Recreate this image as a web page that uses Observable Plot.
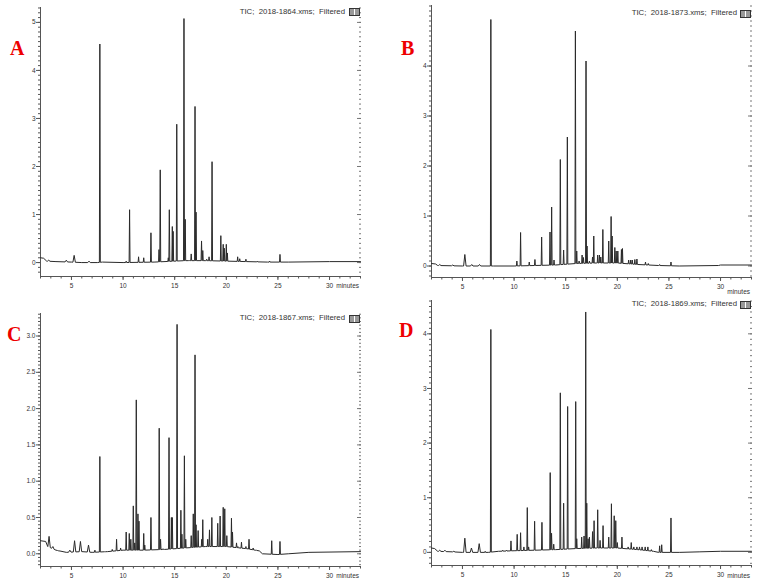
<!DOCTYPE html>
<html>
<head>
<meta charset="utf-8">
<script src="https://cdn.jsdelivr.net/npm/d3@7"></script>
<script src="https://cdn.jsdelivr.net/npm/@observablehq/plot@0.6"></script>
<style>
  body { margin: 0; background: #fff; }
  #wrap { position: relative; width: 761px; height: 582px; overflow: hidden; background: #fff; font-family: "Liberation Sans", Arial, sans-serif; }
  .panel { position: absolute; }
  .lab { position: absolute; font: bold 20px/20px "Liberation Serif", "Times New Roman", serif; color: #ee0000; }
  .small { position: absolute; font-size: 6.5px; line-height: 1; color: #333; white-space: pre; transform: translate(-100%, -50%); }
  .title { font-size: 7.8px; }
  .icon { position: absolute; width: 9px; height: 6px; border: 1px solid #333; background: linear-gradient(90deg, #999 0 40%, #fff 40% 55%, #999 55% 100%); }
</style>
</head>
<body>
<div id="wrap"></div>
<script>
// ---------- Data ----------
const panelLetters = ["A", "B", "C", "D"];
const fileNames = ["2018-1864.xms", "2018-1873.xms", "2018-1867.xms", "2018-1869.xms"];
const xTicks = [5, 10, 15, 20, 25, 30];

// Panel A
const peakTimesA   = [2.8, 4.5, 5.26, 6.7, 7.75, 10.3, 10.63, 11.5, 12.0, 12.7, 13.48, 13.6, 14.38, 14.48, 14.77, 14.85, 15.2, 15.9, 16.02, 16.4, 16.6, 16.97, 17.07, 17.6, 17.72, 18.1, 18.33, 18.62, 19.47, 19.7, 19.8, 20.0, 20.1, 21.1, 21.3, 21.9, 23.0, 24.2, 25.2];
const peakHeightsA = [0.05, 0.05, 0.15, 0.03, 4.55, 0.03, 1.1, 0.12, 0.1, 0.62, 0.27, 1.93, 0.1, 1.1, 0.75, 0.65, 2.88, 5.08, 0.9, 0.05, 0.18, 3.25, 1.05, 0.45, 0.25, 0.07, 0.12, 2.1, 0.56, 0.38, 0.3, 0.38, 0.2, 0.12, 0.08, 0.07, 0.03, 0.03, 0.17];
const baseTimesA   = [2, 2.3, 2.6, 3.5, 5, 6, 7.5, 8, 10, 13, 16, 18, 20, 22, 24, 26, 30, 33];
const baseValuesA  = [0.1, 0.09, 0.03, 0.02, 0.01, 0.0, 0.0, 0.01, 0.0, 0.01, 0.04, 0.04, 0.03, 0.02, 0.01, 0.01, 0.02, 0.02];
const yTicksA = [0, 1, 2, 3, 4, 5];

// Panel B
const peakTimesB   = [2.8, 4.06, 5.23, 5.9, 6.65, 7.75, 10.27, 10.63, 11.47, 12.02, 12.67, 13.48, 13.64, 13.87, 14.48, 14.8, 15.16, 15.94, 16.07, 16.3, 16.59, 16.72, 16.97, 17.07, 17.3, 17.6, 17.72, 18.1, 18.27, 18.4, 18.6, 19.17, 19.4, 19.5, 19.76, 19.89, 20.05, 20.4, 20.5, 21.1, 21.3, 21.45, 21.7, 21.9, 22.73, 23.0, 24.1, 25.2];
const peakHeightsB = [0.03, 0.02, 0.23, 0.03, 0.03, 4.93, 0.1, 0.67, 0.08, 0.13, 0.58, 0.68, 1.18, 0.12, 2.13, 0.32, 2.58, 4.7, 0.3, 0.1, 0.22, 0.17, 4.1, 0.4, 0.1, 0.18, 0.6, 0.22, 0.22, 0.18, 0.73, 0.5, 0.99, 0.6, 0.37, 0.3, 0.3, 0.33, 0.35, 0.12, 0.12, 0.12, 0.13, 0.14, 0.08, 0.05, 0.03, 0.08];
const baseTimesB   = [2, 2.4, 2.6, 5, 8, 10, 12, 14, 16, 18, 20, 22, 24, 26, 29.8, 30, 33];
const baseValuesB  = [0.05, 0.04, 0.01, 0.0, 0.0, 0.0, 0.01, 0.02, 0.05, 0.06, 0.06, 0.03, 0.01, 0.0, 0.01, 0.02, 0.02];
const yTicksB = [0, 1, 2, 3, 4];

// Panel C
const peakTimesC   = [2.83, 3.2, 3.77, 4.84, 5.3, 5.87, 6.65, 7.27, 7.75, 8.24, 8.95, 9.37, 9.76, 10.3, 10.6, 10.75, 10.99, 11.13, 11.28, 11.44, 11.54, 12.0, 12.1, 12.7, 13.5, 13.63, 13.87, 14.45, 14.68, 14.77, 15.23, 15.6, 15.7, 15.94, 16.07, 16.6, 16.8, 16.97, 17.07, 17.27, 17.62, 17.72, 18.2, 18.37, 18.6, 19.17, 19.4, 19.7, 19.85, 20.05, 20.5, 20.6, 20.99, 21.12, 21.47, 21.9, 22.2, 22.6, 22.9, 24.4, 25.2];
const peakHeightsC = [0.24, 0.1, 0.04, 0.05, 0.18, 0.17, 0.12, 0.05, 1.34, 0.03, 0.06, 0.2, 0.08, 0.3, 0.28, 0.2, 0.66, 0.15, 2.12, 0.55, 0.45, 0.28, 0.12, 0.5, 1.73, 0.2, 0.07, 1.6, 0.5, 0.5, 3.16, 0.6, 0.27, 1.35, 0.2, 0.25, 0.55, 2.74, 0.4, 0.32, 0.2, 0.47, 0.2, 0.33, 0.5, 0.42, 0.52, 0.64, 0.62, 0.25, 0.49, 0.3, 0.15, 0.1, 0.16, 0.1, 0.2, 0.08, 0.05, 0.18, 0.17];
const baseTimesC   = [2, 2.5, 2.7, 3.5, 4.5, 6, 7, 8.5, 10, 12, 14, 16, 18, 20, 22, 23.2, 23.5, 25, 26, 28, 33];
const baseValuesC  = [0.18, 0.17, 0.1, 0.05, 0.02, 0.03, 0.02, 0.03, 0.05, 0.05, 0.06, 0.08, 0.1, 0.1, 0.07, 0.04, 0.0, -0.01, 0.0, 0.02, 0.03];
const yTicksC = [0, 0.5, 1, 1.5, 2, 2.5, 3];

// Panel D
const peakTimesD   = [2.8, 3.3, 4.16, 5.23, 5.87, 6.62, 7.2, 7.75, 8.9, 9.27, 9.7, 10.3, 10.63, 10.95, 11.28, 11.41, 11.99, 12.7, 13.5, 13.63, 13.84, 14.48, 14.8, 15.19, 15.97, 16.07, 16.55, 16.78, 16.94, 17.04, 17.17, 17.3, 17.6, 17.75, 18.1, 18.33, 18.62, 19.17, 19.43, 19.7, 19.85, 20.0, 20.45, 21.05, 21.35, 21.6, 21.9, 22.15, 22.4, 22.7, 22.96, 23.3, 24.1, 24.3, 25.2];
const peakHeightsD = [0.04, 0.04, 0.02, 0.26, 0.08, 0.16, 0.02, 4.08, 0.04, 0.04, 0.21, 0.33, 0.36, 0.1, 0.82, 0.1, 0.57, 0.55, 1.46, 0.35, 0.15, 2.92, 0.9, 2.67, 2.76, 0.25, 0.28, 0.3, 4.4, 0.9, 0.25, 0.28, 0.38, 0.58, 0.78, 0.22, 0.49, 0.28, 0.89, 0.67, 0.58, 0.18, 0.28, 0.1, 0.18, 0.1, 0.1, 0.1, 0.1, 0.1, 0.1, 0.05, 0.12, 0.14, 0.63];
const baseTimesD   = [2, 2.3, 2.6, 4, 5, 7.5, 8.5, 10, 12, 14, 16, 18, 20, 22, 23.5, 24, 26, 28, 30, 33];
const baseValuesD  = [0.08, 0.07, 0.02, 0.01, 0.0, 0.0, 0.02, 0.03, 0.04, 0.05, 0.07, 0.08, 0.08, 0.05, 0.02, 0.0, 0.0, 0.01, 0.02, 0.02];
const yTicksD = [0, 1, 2, 3, 4];

// ---------- Build the traces ----------
function buildTrace(pt, ph, bt, bv) {
  const base = d3.scaleLinear().domain(bt).range(bv).clamp(true);
  const halfW = t => (t < 7 ? 0.12 : 0.045);
  const inPeak = t => pt.some(p => Math.abs(t - p) <= halfW(p));
  const pts = bt.filter(t => !inPeak(t)).map(t => ({t, v: base(t)}));
  pt.forEach((t, i) => {
    const w = halfW(t);
    pts.push({t: t - w, v: base(t - w)}, {t, v: ph[i]}, {t: t + w, v: base(t + w)});
  });
  return pts.sort((a, b) => a.t - b.t);
}

const panels = [
  {left: 0,   top: 0,   w: 380, h: 290, ml: 40, mr: 20, mt: 7,  mb: 14, y: [-0.29, 5.31], ticks: yTicksA, minor: 0.1, fmt: d3.format("d"),
   trace: buildTrace(peakTimesA, peakHeightsA, baseTimesA, baseValuesA),
   title: [345, 12], icon: [349, 8], minutes: [359, 286], lab: [10, 38]},
  {left: 380, top: 0,   w: 381, h: 290, ml: 51, mr: 10, mt: 5,  mb: 13, y: [-0.23, 5.21], ticks: yTicksB, minor: 0.1, fmt: d3.format("d"),
   trace: buildTrace(peakTimesB, peakHeightsB, baseTimesB, baseValuesB),
   title: [737, 13.3], icon: [740, 10], minutes: [750, 292], lab: [401, 38]},
  {left: 0,   top: 290, w: 380, h: 292, ml: 40, mr: 20, mt: 23, mb: 16, y: [-0.175, 3.31], ticks: yTicksC, minor: 0.05, fmt: d3.format(".1f"),
   trace: buildTrace(peakTimesC, peakHeightsC, baseTimesC, baseValuesC),
   title: [345, 317.7], icon: [349, 314.5], minutes: [359, 575.7], lab: [7, 324]},
  {left: 380, top: 290, w: 381, h: 292, ml: 51, mr: 10, mt: 10, mb: 17, y: [-0.24, 4.61], ticks: yTicksD, minor: 0.1, fmt: d3.format("d"),
   trace: buildTrace(peakTimesD, peakHeightsD, baseTimesD, baseValuesD),
   title: [737, 304], icon: [740, 301], minutes: [750, 575.7], lab: [399, 320]}
];

const wrap = document.getElementById("wrap");
const axisColor = "#555";

panels.forEach((p, i) => {
  const yMinor = d3.range(Math.ceil(p.y[0] / p.minor), Math.floor(p.y[1] / p.minor) + 1).map(k => +(k * p.minor).toFixed(3));
  const xMinor = d3.range(2, 34);
  const chart = Plot.plot({
    width: p.w, height: p.h,
    marginLeft: p.ml, marginRight: p.mr, marginTop: p.mt, marginBottom: p.mb,
    x: {domain: [2, 33]},
    y: {domain: p.y},
    style: {fontFamily: "'Liberation Sans', Arial, sans-serif", fontSize: "6.5px", color: "#333", background: "transparent", overflow: "visible"},
    marks: [
      Plot.ruleX([2], {stroke: axisColor, strokeWidth: 1}),
      Plot.ruleY([p.y[0]], {stroke: axisColor, strokeWidth: 1}),
      Plot.axisY({ticks: p.ticks, tickSize: 4, tickPadding: 1, tickFormat: p.fmt, stroke: axisColor, label: null}),
      Plot.axisY({ticks: yMinor, tickSize: 2, text: null, stroke: axisColor, label: null}),
      Plot.axisY({anchor: "right", ticks: yMinor, tickSize: 2, dx: -2, text: null, stroke: "#777", label: null}),
      Plot.axisY({anchor: "right", ticks: p.ticks, tickSize: 4, dx: -4, text: null, stroke: "#777", label: null}),
      Plot.axisX({ticks: xTicks, tickSize: 4, tickPadding: 3, stroke: axisColor, label: null}),
      Plot.axisX({ticks: xMinor, tickSize: 2.5, text: null, stroke: axisColor, label: null}),
      Plot.line(p.trace, {x: "t", y: "v", stroke: "#2a2a2a", strokeWidth: 1})
    ]
  });
  const holder = document.createElement("div");
  holder.className = "panel";
  holder.style.left = p.left + "px";
  holder.style.top = p.top + "px";
  holder.appendChild(chart);
  wrap.appendChild(holder);

  const lab = document.createElement("div");
  lab.className = "lab";
  lab.style.left = p.lab[0] + "px";
  lab.style.top = p.lab[1] + "px";
  lab.textContent = panelLetters[i];
  wrap.appendChild(lab);

  const title = document.createElement("div");
  title.className = "small title";
  title.style.left = p.title[0] + "px";
  title.style.top = p.title[1] + "px";
  title.textContent = "TIC;  " + fileNames[i] + ";  Filtered";
  wrap.appendChild(title);

  const icon = document.createElement("div");
  icon.className = "icon";
  icon.style.left = p.icon[0] + "px";
  icon.style.top = p.icon[1] + "px";
  wrap.appendChild(icon);

  const mins = document.createElement("div");
  mins.className = "small";
  mins.style.left = p.minutes[0] + "px";
  mins.style.top = p.minutes[1] + "px";
  mins.textContent = "minutes";
  wrap.appendChild(mins);
});
</script>
</body>
</html>
